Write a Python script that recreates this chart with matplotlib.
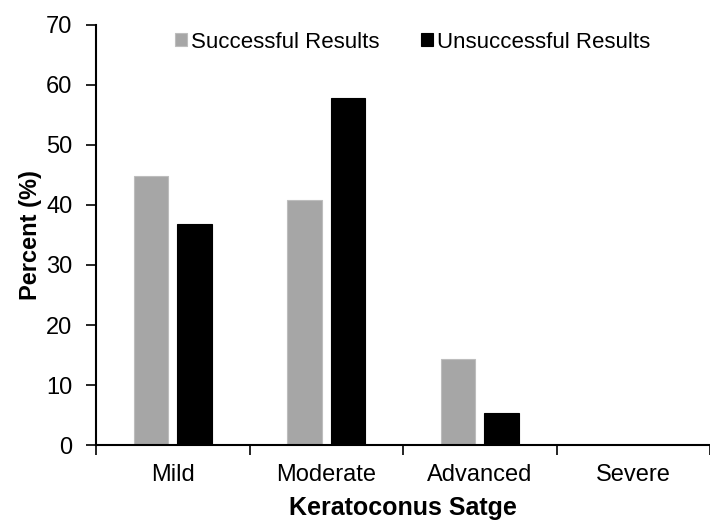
import numpy as np
import matplotlib.pyplot as plt

plt.rcParams['font.family'] = ['Liberation Sans', 'DejaVu Sans']

stages = ["Mild", "Moderate", "Advanced", "Severe"]
successful = [44.9, 40.8, 14.3, 0.0]
unsuccessful = [36.8, 57.9, 5.3, 0.0]

fig = plt.figure(figsize=(7.1, 5.25), dpi=100)
ax = fig.add_axes([96 / 710, 80 / 525, (710 - 96) / 710, 420 / 525])

x = np.arange(len(stages)) + 0.5
w = 0.223
ax.bar(x - 0.142, successful, w, color="#a6a6a6", edgecolor="#bdbdbd", linewidth=0.8,
       label="Successful Results")
ax.bar(x + 0.142, unsuccessful, w, color="black", edgecolor="black", linewidth=0.8,
       label="Unsuccessful Results")

ax.set_xlim(0, 4)
ax.set_ylim(0, 70)
ax.set_yticks(range(0, 71, 10))
ax.set_xticks(np.arange(0, 5))
ax.set_xticklabels([])
ax.set_xticks(x, minor=True)
ax.set_xticklabels(stages, minor=True, fontsize=17)
ax.tick_params(axis="x", which="minor", length=0, pad=14)
ax.tick_params(axis="x", which="major", length=7, width=1.2, direction="out")
ax.tick_params(axis="y", length=7, width=1.2, direction="out", labelsize=17, pad=10)

for s in ["top", "right"]:
    ax.spines[s].set_visible(False)
for s in ["left", "bottom"]:
    ax.spines[s].set_linewidth(1.5)

ax.set_ylabel("Percent (%)", fontsize=17, fontweight="bold", labelpad=3)
ax.set_xlabel("Keratoconus Satge", fontsize=18, fontweight="bold", labelpad=7)

ax.legend(loc="center left", bbox_to_anchor=(0.111, 0.9595), ncol=2, frameon=False,
          fontsize=16, borderpad=0, handlelength=0.54, handleheight=0.54,
          handletextpad=0.15, columnspacing=1.9)

fig.savefig("out.png", dpi=100)
